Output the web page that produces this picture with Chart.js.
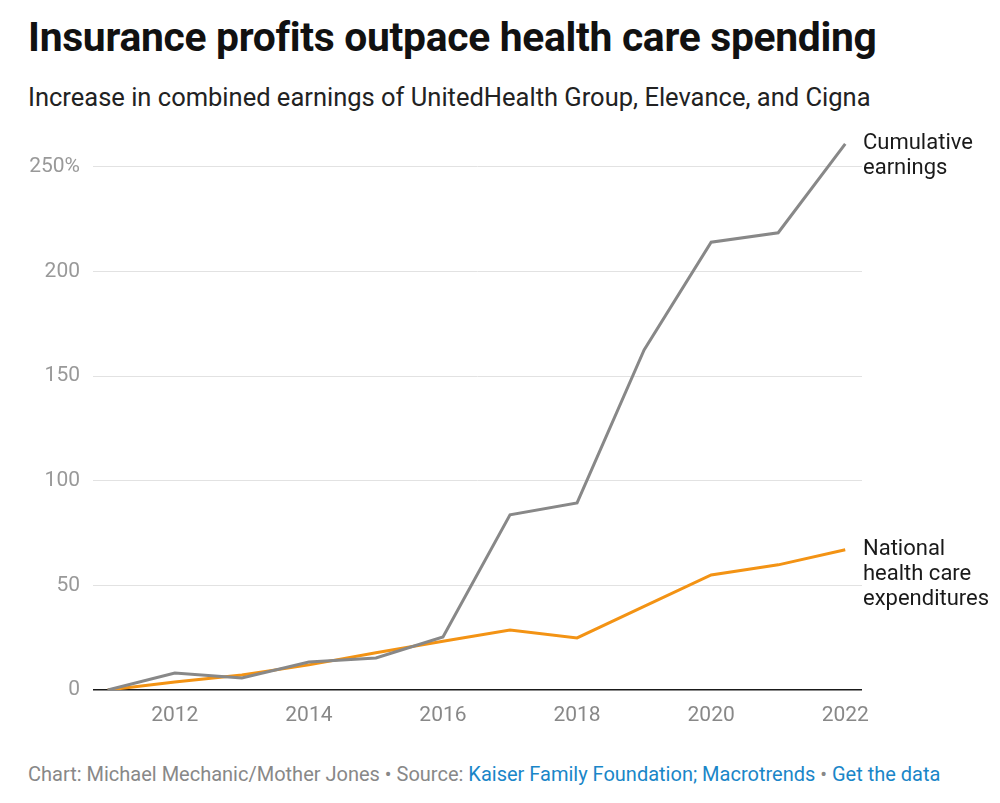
<!DOCTYPE html>
<html>
<head>
<meta charset="utf-8">
<script src="https://cdn.jsdelivr.net/npm/chart.js@4"></script>
<style>
  body { margin: 0; background: #fff; font-family: Roboto, sans-serif; }
  #wrap { position: relative; width: 1000px; height: 803px; }
  h1 { position: absolute; left: 28px; top: 13px; margin: 0; font-size: 40.8px; font-weight: 700; color: #111; letter-spacing: -0.3px; white-space: nowrap; }
  .sub { position: absolute; left: 28px; top: 82px; font-size: 25.5px; color: #222; white-space: nowrap; }
  .foot { position: absolute; left: 28px; top: 762px; font-size: 20px; color: #888; white-space: nowrap; }
  .foot a { color: #1a86c8; text-decoration: none; }
  #box { position: absolute; left: 0; top: 114px; width: 1000px; height: 626px; }
</style>
</head>
<body>
<div id="wrap">
  <h1>Insurance profits outpace health care spending</h1>
  <div class="sub">Increase in combined earnings of UnitedHealth Group, Elevance, and Cigna</div>
  <div id="box"><canvas id="myCanvas"></canvas></div>
  <div class="foot">Chart: Michael Mechanic/Mother Jones • Source: <a>Kaiser Family Foundation; Macrotrends</a> • <a>Get the data</a></div>
</div>
<script>
const years = [2011, 2012, 2013, 2014, 2015, 2016, 2017, 2018, 2019, 2020, 2021, 2022]
const earnings = [0, 8.1, 5.7, 13.4, 15.3, 25.3, 83.7, 89.4, 162.5, 214, 218.5, 261]
const spending = [0, 3.8, 7.2, 12, 17.8, 23.3, 28.7, 24.9, 40, 55, 59.8, 67]
const xTicks = [2012, 2014, 2016, 2018, 2020, 2022]
const yTicks = [0, 50, 100, 150, 200, 250]
const seriesNames = [['Cumulative', 'earnings'], ['National', 'health care', 'expenditures']]

// write end labels next to the last point of each line
const endLabels = {
    id: 'endLabels',
    afterDatasetsDraw(chart) {
        const ctx = chart.ctx
        ctx.save()
        ctx.font = '22px Roboto'
        ctx.fillStyle = '#1a1a1a'
        ctx.textBaseline = 'middle'
        chart.data.datasets.forEach((ds, i) => {
            const pts = chart.getDatasetMeta(i).data
            const last = pts[pts.length - 1]
            seriesNames[i].forEach((line, j) => {
                ctx.fillText(line, 863, last.y + j * 25)
            })
        })
        ctx.restore()
    }
}

const myChart = document.getElementById('myCanvas').getContext('2d')

new Chart(myChart, {
    type: 'line',
    data: {
        datasets: [
            {
                label: 'Cumulative earnings',
                data: years.map((y, i) => ({ x: y, y: earnings[i] })),
                borderColor: '#888888',
                borderWidth: 3,
                pointRadius: 0,
                tension: 0
            },
            {
                label: 'National health care expenditures',
                data: years.map((y, i) => ({ x: y, y: spending[i] })),
                borderColor: '#f39314',
                borderWidth: 3,
                pointRadius: 0,
                tension: 0
            }
        ]
    },
    options: {
        responsive: true,
        maintainAspectRatio: false,
        animation: false,
        layout: { padding: { top: 12, right: 138, left: 0, bottom: 0 } },
        plugins: {
            legend: { display: false },
            tooltip: { enabled: false }
        },
        scales: {
            x: {
                type: 'linear',
                min: 2010.78,
                max: 2022.25,
                grid: { display: false },
                border: { display: false },
                afterBuildTicks: (axis) => { axis.ticks = xTicks.map(v => ({ value: v })) },
                afterFit: (axis) => { axis.height = 50 },
                ticks: {
                    color: '#888',
                    font: { family: 'Roboto', size: 21 },
                    padding: 5,
                    maxRotation: 0,
                    callback: (v) => String(v)
                }
            },
            y: {
                min: 0,
                max: 263,
                border: { display: false },
                afterBuildTicks: (axis) => { axis.ticks = yTicks.map(v => ({ value: v })) },
                afterFit: (axis) => { axis.width = 93 },
                grid: {
                    drawTicks: false,
                    color: (c) => c.tick && c.tick.value === 0 ? '#1a1a1a' : '#e2e2e2',
                    lineWidth: (c) => c.tick && c.tick.value === 0 ? 1.5 : 1
                },
                ticks: {
                    color: '#999',
                    font: { family: 'Roboto', size: 21 },
                    padding: 13,
                    callback: (v) => v === 250 ? '250%' : String(v)
                }
            }
        }
    },
    plugins: [endLabels]
})
</script>
</body>
</html>
